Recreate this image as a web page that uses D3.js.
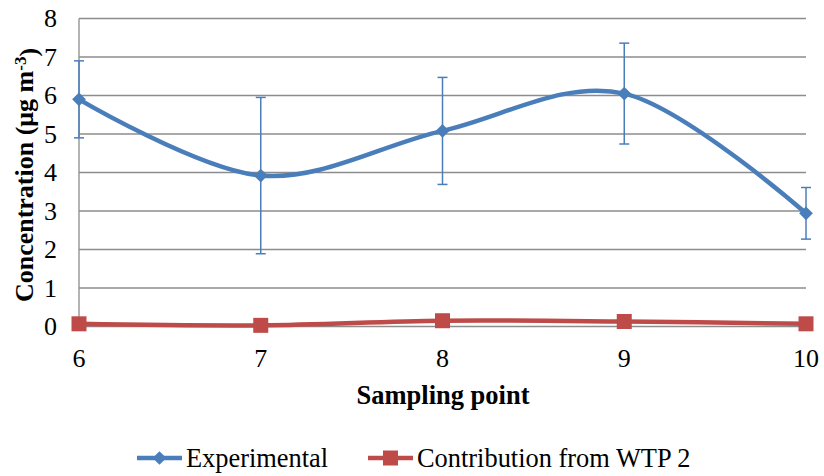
<!DOCTYPE html>
<html>
<head>
<meta charset="utf-8">
<script src="https://cdn.jsdelivr.net/npm/d3@7"></script>
<style>
  body { margin: 0; background: #fff; }
</style>
</head>
<body>
<svg id="chart" width="824" height="476"></svg>
<script>
// data
var samplingPoints = [6, 7, 8, 9, 10];
var experimental   = [5.90, 3.92, 5.08, 6.05, 2.94];
var expError       = [1.00, 2.03, 1.39, 1.31, 0.67];
var wtp2           = [0.07, 0.03, 0.15, 0.13, 0.07];
var yTicks         = [0, 1, 2, 3, 4, 5, 6, 7, 8];

var blue = "#4a7ebb", red = "#be4b48", grid = "#8c8c8c";
var serif = "'Liberation Serif', 'Times New Roman', serif";

var svg = d3.select("#chart");

var x = d3.scaleLinear().domain([6, 10]).range([79, 806]);
var y = d3.scaleLinear().domain([0, 8]).range([326.5, 18.5]);

// gridlines
svg.append("g").selectAll("line").data(yTicks).enter().append("line")
    .attr("x1", x(6)).attr("x2", x(10))
    .attr("y1", function(d){ return y(d); })
    .attr("y2", function(d){ return y(d); })
    .attr("stroke", grid).attr("stroke-width", 1.3);

// left axis line
svg.append("line")
    .attr("x1", x(6)).attr("x2", x(6))
    .attr("y1", y(8)).attr("y2", y(0))
    .attr("stroke", grid).attr("stroke-width", 1.3);

// y tick labels
svg.append("g").selectAll("text").data(yTicks).enter().append("text")
    .attr("x", 57)
    .attr("y", function(d){ return y(d); })
    .attr("dy", "0.34em")
    .attr("text-anchor", "end")
    .style("font-family", serif)
    .style("font-size", "26px")
    .text(function(d){ return d; });

// x tick labels
svg.append("g").selectAll("text").data(samplingPoints).enter().append("text")
    .attr("x", function(d){ return x(d); })
    .attr("y", 367)
    .attr("text-anchor", "middle")
    .style("font-family", serif)
    .style("font-size", "26px")
    .text(function(d){ return d; });

// axis titles
svg.append("text")
    .attr("x", 443).attr("y", 404)
    .attr("text-anchor", "middle")
    .style("font-family", serif)
    .style("font-size", "26.5px").style("font-weight", "bold")
    .text("Sampling point");

var yt = svg.append("text")
    .attr("transform", "translate(33,175) rotate(-90)")
    .attr("text-anchor", "middle")
    .style("font-family", serif)
    .style("font-size", "26px").style("font-weight", "bold");
yt.append("tspan").text("Concentration (μg m");
yt.append("tspan").attr("dy", "-0.4em").style("font-size", "17px").text("-3");
yt.append("tspan").attr("dy", "0.4em").text(")");

// error bars
var eb = svg.append("g").attr("stroke", blue).attr("stroke-width", 1.5);
samplingPoints.forEach(function(p, i){
    var top = y(experimental[i] + expError[i]), bot = y(experimental[i] - expError[i]);
    eb.append("line").attr("x1", x(p)).attr("x2", x(p)).attr("y1", top).attr("y2", bot);
    eb.append("line").attr("x1", x(p) - 5).attr("x2", x(p) + 5).attr("y1", top).attr("y2", top);
    eb.append("line").attr("x1", x(p) - 5).attr("x2", x(p) + 5).attr("y1", bot).attr("y2", bot);
});

// smoothed lines (Excel style)
var line = d3.line()
    .x(function(d){ return x(d[0]); })
    .y(function(d){ return y(d[1]); })
    .curve(d3.curveCatmullRom.alpha(0));

svg.append("path")
    .datum(d3.zip(samplingPoints, wtp2))
    .attr("d", line)
    .attr("fill", "none").attr("stroke", red).attr("stroke-width", 4.5);

svg.append("path")
    .datum(d3.zip(samplingPoints, experimental))
    .attr("d", line)
    .attr("fill", "none").attr("stroke", blue).attr("stroke-width", 4.5);

// markers
var diamond = d3.symbol().type(d3.symbolDiamond2).size(120);
var square  = d3.symbol().type(d3.symbolSquare).size(225);

svg.append("g").selectAll("path").data(d3.zip(samplingPoints, wtp2)).enter().append("path")
    .attr("transform", function(d){ return "translate(" + x(d[0]) + "," + y(d[1]) + ")"; })
    .attr("d", square).attr("fill", red);

svg.append("g").selectAll("path").data(d3.zip(samplingPoints, experimental)).enter().append("path")
    .attr("transform", function(d){ return "translate(" + x(d[0]) + "," + y(d[1]) + ")"; })
    .attr("d", diamond).attr("fill", blue);

// legend
var legend = [
    {label: "Experimental", color: blue, sym: diamond, x0: 137},
    {label: "Contribution from WTP 2", color: red, sym: square, x0: 368}
];
var lg = svg.append("g").selectAll("g").data(legend).enter().append("g")
    .attr("transform", function(d){ return "translate(" + d.x0 + ",458)"; });
lg.append("line").attr("x1", 0).attr("x2", 45)
    .attr("stroke", function(d){ return d.color; }).attr("stroke-width", 4.5);
lg.append("path").attr("transform", "translate(22.5,0)")
    .attr("d", function(d){ return d.sym(); })
    .attr("fill", function(d){ return d.color; });
lg.append("text").attr("x", 49).attr("y", 0).attr("dy", "0.33em")
    .style("font-family", serif)
    .style("font-size", "26.4px")
    .text(function(d){ return d.label; });
</script>
</body>
</html>
